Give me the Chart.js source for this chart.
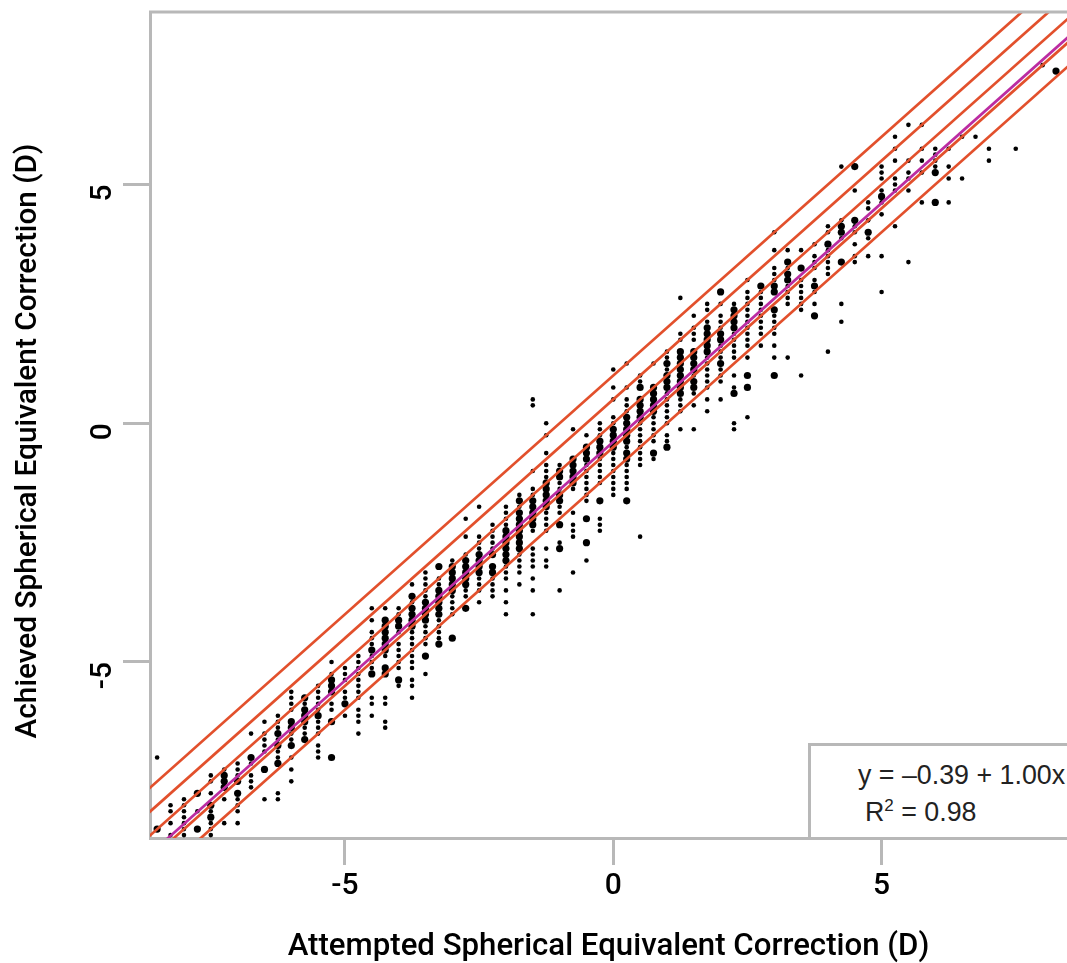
<!DOCTYPE html><html lang="en">
<head>
<meta charset="utf-8"/>
<title>Attempted vs Achieved Spherical Equivalent Correction</title>
<script src="https://cdn.jsdelivr.net/npm/chart.js"></script>
<style>
  body{margin:0;background:#fff;overflow:hidden}
  #wrap{position:relative;width:1067px;height:963px}
  canvas{display:block}
  #fit{position:absolute;left:808px;top:743px;width:259px;height:94px;box-sizing:border-box;border-left:3px solid #b8b8b8;border-top:3px solid #b8b8b8;background:#fff;font-family:"Liberation Sans",sans-serif;font-size:26.8px;color:#222;white-space:nowrap}
  #fit div{position:absolute}
  #fit sup{font-size:17px;line-height:0}
</style>
</head>
<body>
<div id="wrap">
<canvas id="chart" width="1067" height="963"></canvas>
<div id="fit"><div style="left:47px;top:14px">y = –0.39 + 1.00x</div><div style="left:54px;top:51px">R<sup>2</sup> = 0.98</div></div>
</div>
<script>
// attempted correction (D), one entry per column of dots
const attempted = [-8.5,-8.25,-8,-7.75,-7.5,-7.25,-7,-6.75,-6.5,-6.25,-6,-5.75,-5.5,-5.25,-5,-4.75,-4.5,-4.25,-4,-3.75,-3.5,-3.25,-3,-2.75,-2.5,-2.25,-2,-1.75,-1.5,-1.25,-1,-0.75,-0.5,-0.25,0,0.25,0.5,0.75,1,1.25,1.5,1.75,2,2.25,2.5,2.75,3,3.25,3.5,3.75,4,4.25,4.5,4.75,5,5.25,5.5,5.75,6,6.25,6.5,6.75,7,7.25,7.5,7.75,8,8.25];
// achieved correction (D) per column, single eyes (small dots)
const achievedSmall = [
[-7],
[-8,-8.125,-8.375,-8.625],
[-7.875,-8,-8.125,-8.25,-8.375,-8.5,-8.625],
[-8.125],
[-7.375,-7.5,-7.75,-8.125,-8.375,-8.5,-8.625],
[-7.25,-7.875,-8.375],
[-7.125,-7.25,-7.375,-7.875,-8,-8.125,-8.375],
[-6.5,-7.125,-7.375,-7.5,-7.625],
[-6.25,-6.5,-6.625,-6.75,-6.875,-7.875],
[-6.125,-6.25,-6.375,-6.625,-6.875,-7,-7.75,-7.875],
[-5.625,-5.75,-5.875,-6,-6.5,-6.625,-7,-7.25,-7.5],
[-5.875,-6.375,-6.5],
[-5.5,-5.625,-5.75,-5.875,-6,-6.25,-6.375,-6.5,-6.75,-6.875,-7],
[-5,-5.25,-5.875,-6],
[-5.125,-5.25,-5.375,-5.625,-5.75,-6.125],
[-4.875,-5,-5.125,-5.25,-5.375,-5.5,-5.625,-5.75,-6,-6.125,-6.25,-6.5],
[-3.875,-4.125,-4.375,-4.5,-4.625,-4.875,-5,-5.125,-5.75,-5.875,-6.125],
[-3.875,-4.875,-5.75,-5.875,-6.25,-6.375],
[-3.875,-4,-4.375,-4.625,-4.75,-4.875,-5,-5.125,-5.5],
[-3.375,-3.75,-3.875,-4.25,-4.375,-4.5,-4.625,-4.75,-4.875,-5,-5.125,-5.375,-5.5,-5.75],
[-3.125,-3.25,-3.375,-3.5,-3.625,-4,-4.125,-4.25,-4.375,-4.5,-4.625,-5.25],
[-3.25,-3.375,-3.5,-3.625,-3.75,-3.875,-4,-4.125,-4.25,-4.375,-4.5],
[-2.875,-3.125,-3.625,-3.75,-3.875,-4],
[-2,-2.375,-2.75,-3.25,-3.375,-3.5,-3.625],
[-1.75,-2.375,-2.5,-2.625,-2.75,-2.875,-3,-3.125,-3.25,-3.375,-3.5,-3.75],
[-2.125,-2.25,-2.375,-2.5,-2.625,-2.75,-3.25,-3.375,-3.5,-3.625],
[-1.75,-1.875,-2,-2.125,-2.75,-2.875,-3,-3.125,-3.25,-3.5,-3.75,-4],
[-1.5,-1.75,-2.25,-2.375,-2.5,-2.625,-2.75,-2.875,-3,-3.125,-3.375],
[0.5,0.375,-1,-1.375,-1.5,-2,-2.125,-2.25,-2.625,-2.75,-2.875,-3,-3.25,-3.5,-4],
[0,-0.25,-0.625,-0.875,-1,-1.125,-1.625,-1.75,-1.875,-2,-2.125,-2.25,-2.625,-2.875,-3],
[-0.875,-1.125,-1.25,-1.375,-1.625,-1.75,-1.875,-2.5,-3.5],
[-0.125,-0.75,-1.125,-1.25,-1.375,-1.875,-2.125,-2.25,-2.375,-3.125],
[-0.25,-0.5,-0.75,-0.875,-1,-1.125,-1.25,-1.375,-1.5,-1.625,-2.875],
[0,-0.125,-0.25,-0.375,-0.5,-0.625,-0.75,-0.875,-1,-1.125,-1.25,-2,-2.125,-2.25],
[1.125,0.75,0.5,0.125,0,-0.375,-0.625,-0.75,-0.875,-1,-1.125,-1.25,-1.375,-1.5],
[1.25,0.75,0.5,0.375,0.25,-0.375,-0.5,-0.875,-1,-1.125,-1.25,-1.375],
[1,0.875,0.125,0,-0.125,-0.25,-0.375,-0.5,-0.625,-0.75,-0.875,-2.375],
[1.25,0.125,0,-0.125,-0.25,-0.375,-0.75],
[1.5,1.375,1.125,0.625,0.5,0.375,0.25,0.125,0,-0.25,-0.375],
[2.625,1.875,1.75,0.5,0.375,0.25,-0.125],
[2.25,2,1.875,1.75,1,0.625,0.375,-0.125],
[2.5,2.375,2.125,1.375,1.25,1.125,1,0.875,0.75,0.5,0.25],
[2.5,2.25,2.125,2,1.625,1.5,1.375,1.125,1,0.875,0.5],
[2.5,1.875,1.75,1.625,1.5,1.375,1,0.75,0,-0.125],
[3,2.75,2.625,2.5,2.375,2.25,2.125,2,1.875,1.75,1.625,1.375,0.125],
[2.75,2.625,2.5,2.375,2.25,2.125,2,1.875,1.625],
[4,3.625,3.25,3.125,3,2.25,2.125,2,1.875,1.625,1.375],
[3.625,3.25,2.875,2.75,2.625,2.5,1.375],
[3.625,3,2.875,2.75,2.625,2.5,2.375,1],
[3.75,3.5,3.375,3.25,3,2.75,2.5],
[4.125,4,3.625,3.5,3.375,3.25,3.125,1.5],
[5.375,4.25,3.875,2.5,2.125],
[4.875,4.125,4,3.75,3.5,3.375],
[4.625,4.5,4.25,3.875,3.5],
[5.375,5.25,5.125,4.875,4.625,4.375,3.5,2.75],
[6,5.75,5.5,5.125,5,4.875,4.125],
[6.25,5.5,5.25,5.125,4.875,3.375],
[6.25,5.75,5.5,5.25,4.625],
[5.75,5.625,5.5,5.375],
[5.75,5.375,5.125,4.625],
[6,5.125],
[6],
[5.75,5.5],
[],
[5.75],
[],
[7.5],
[]
];
// achieved correction (D) per column, several eyes on one spot (large dots)
const achievedLarge = [
[-8.5],[],[],[-7.75,-8.5],[-8,-8.25],[-7.375,-7.5,-7.625],[-7.5,-7.75],[-7],[-7.25],[-6.5,-6.75,-7.125],[-6.25,-6.375,-6.75],[-5.75,-6,-6.125,-6.25,-6.625],[-6.125],[-5.375,-5.5,-5.625,-6.25,-7],[-5.875],[],[-4.75,-5.25],[-4.125,-4.25,-4.375,-4.5,-4.625,-4.75,-5.125,-5.25],[-4.125,-4.25,-5.375],
[-3.625,-3.875,-4,-4.125,-4.25],
[-3.75,-3.875,-4,-4.125,-4.875],
[-3,-3.5,-3.625,-3.75,-3.875,-4,-4.625],
[-3,-3.125,-3.25,-3.375,-3.5,-4.5],
[-2.875,-3,-3.125,-3.25,-3.375,-3.875],
[-2.75,-2.875,-3,-3.125],
[-2.75,-3,-3.125],
[-2.25,-2.375,-2.5,-2.625,-2.75,-2.875],
[-1.625,-1.875,-2,-2.125,-2.25,-2.375,-2.5,-2.625],
[-1.625,-1.75,-1.875,-2,-2.125],
[-1.25,-1.375,-1.5,-1.625,-1.75],
[-1,-1.125,-1.5,-1.625,-2.125,-2.625],
[-0.75,-0.875,-1,-1.125,-1.25],
[-0.5,-0.625,-0.75,-2,-2.5],
[-0.375,-0.5,-0.625,-1.625],
[-0.125,-0.25,-0.375,-0.5],
[0.125,0,-0.125,-0.25,-0.375,-0.625,-0.75,-1.625],
[0.75,0.5,0.375,0.25,0.125],
[0.75,0.625,0.5,0.375,0.25,-0.625],
[1.25,1,0.875,0.75,-0.5],
[1.5,1.375,1.25,1.125,1,0.875,0.75,0.625],
[1.5,1.375,1.25,1.125,0.875,0.75],
[2,1.875,1.75,1.625,1.5],
[2.75,1.875,1.75,1.25],
[2.375,2.25,2.125,2,0.625],
[1,0.75],[2.875],[2.875,2.75,2.375,1],[3.375,3.125,3],[3.25],[2.875,2.25],[3.75],[4.125,4,3.375],[5.375,4.25],[4],[4.75],[],[],[],[5.25,4.625],[],[],[],[],[],[],[],[],[7.375]
];
// reference lines: x ends and y ends
const lineX = [-10,10];
const lineUpper1 = [-9,11];
const lineUpper05 = [-9.5,10.5];
const lineIdentity = [-10,10];
const lineLower05 = [-10.5,9.5];
const lineLower1 = [-11,9];
const lineFit = [-10.39,9.61];
const xTitle = 'Attempted Spherical Equivalent Correction (D)';
const yTitle = 'Achieved Spherical Equivalent Correction (D)';

const GREY = '#b8b8b8', RED = '#e2502c', MAGENTA = '#bb2ca2';
const FONT = 'Roboto, sans-serif';

function dots(lists){
  const out = [];
  lists.forEach((col, i) => col.forEach(v => out.push({x: attempted[i], y: v})));
  return out;
}
function line(ys, color, order){
  return {type:'scatter', data: lineX.map((x, i) => ({x, y: ys[i]})), showLine:true, pointRadius:0,
          borderColor:color, borderWidth:2.7, order};
}
function dotSet(lists, r){
  return {type:'scatter', data: dots(lists), pointRadius:r, pointBorderWidth:0, backgroundColor:'#000', order:5};
}

// top frame line and the rotated y title
const frame = {
  id:'frame',
  afterDraw(c){
    const a = c.chartArea, g = c.ctx;
    g.save();
    g.strokeStyle = GREY; g.lineWidth = 3;
    g.beginPath(); g.moveTo(a.left - 1, a.top); g.lineTo(a.right, a.top); g.stroke();
    g.translate(29, 441); g.rotate(-Math.PI / 2);
    g.fillStyle = '#000'; g.font = '500 29.8px ' + FONT; g.textAlign = 'center'; g.textBaseline = 'middle';
    g.fillText(yTitle, 0, 0);
    g.restore();
  }
};

const axisCommon = {
  type:'linear',
  border:{color:GREY, width:3},
  grid:{drawOnChartArea:false, drawTicks:true, tickLength:27, tickColor:GREY, tickWidth:3},
};

new Chart(document.getElementById('chart'), {
  type:'scatter',
  data:{datasets:[
    line(lineFit, MAGENTA, 0),
    line(lineUpper1, RED, 1),
    line(lineUpper05, RED, 1),
    line(lineIdentity, RED, 1),
    line(lineLower05, RED, 1),
    line(lineLower1, RED, 1),
    dotSet(achievedSmall, 2.3),
    dotSet(achievedLarge, 3.6)
  ]},
  options:{
    responsive:false,
    animation:false,
    layout:{autoPadding:false, padding:{left:0, top:12, right:0, bottom:0}},
    plugins:{legend:{display:false}, tooltip:{enabled:false}},
    scales:{
      x:{...axisCommon, min:-8.633, max:8.455,
        afterFit(s){ s.height = 125; s.paddingLeft = 0; s.paddingRight = 0; },
        ticks:{stepSize:5, includeBounds:false, color:'#000', padding:3, maxRotation:0, autoSkip:false, font:{family:FONT, size:30, weight:'500'}},
        title:{display:true, text:xTitle, color:'#000', padding:{top:0, bottom:-3}, font:{family:FONT, size:31.2, weight:'500'}}
      },
      y:{...axisCommon, min:-8.686, max:8.613,
        afterFit(s){ s.width = 150; s.paddingTop = 0; s.paddingBottom = 0; },
        ticks:{stepSize:5, includeBounds:false, color:'#000', padding:20, minRotation:90, maxRotation:90, autoSkip:false, font:{family:FONT, size:30, weight:'500'}}
      }
    }
  },
  plugins:[frame]
});
</script>
</body>
</html>
